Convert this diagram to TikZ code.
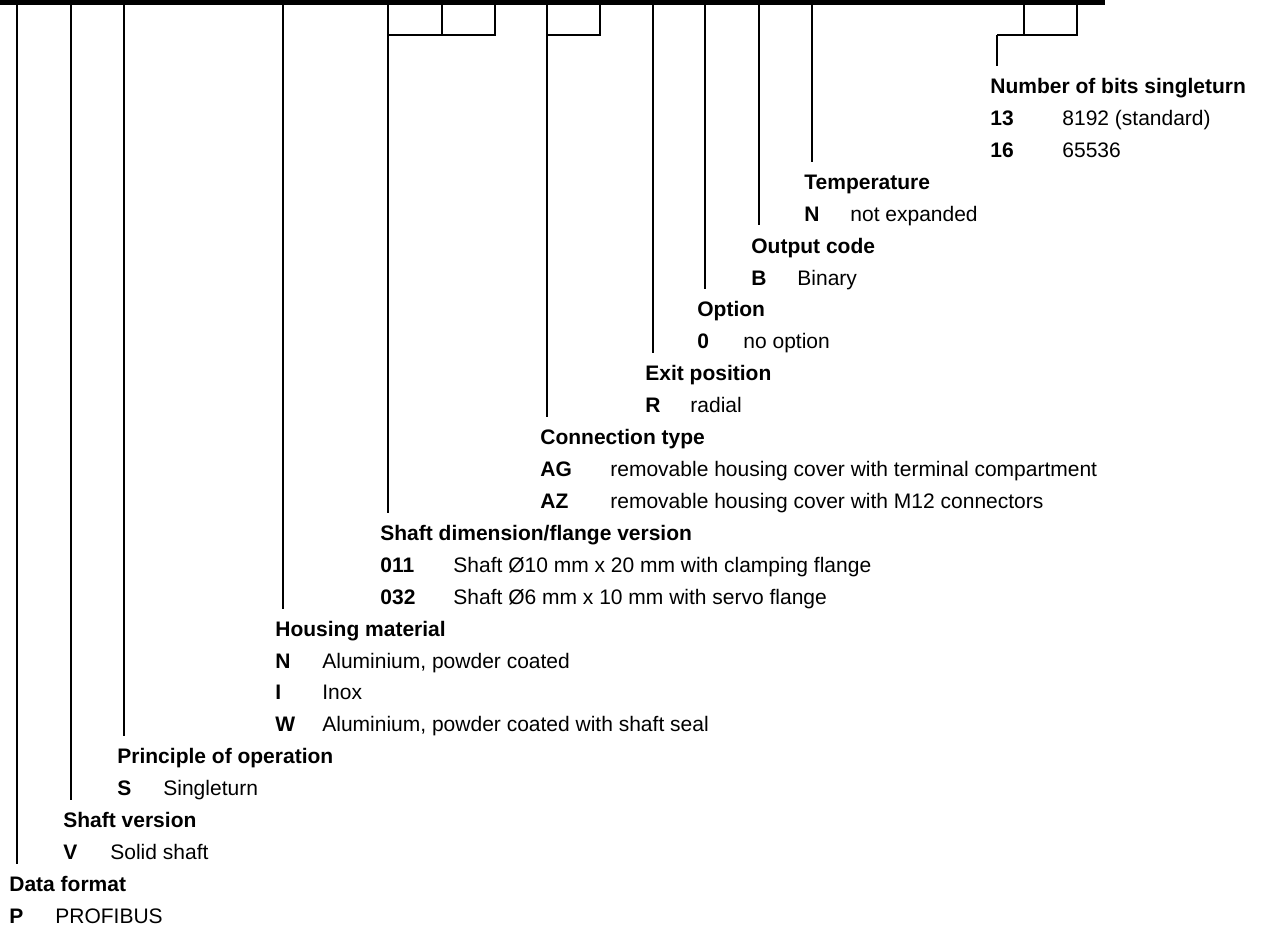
\documentclass[tikz,border=0pt]{standalone}
\usepackage{fontspec}
\setmainfont{Liberation Sans}
\usepackage{tikz}
\usetikzlibrary{calc}
\newcommand{\keysize}{\fontsize{10.5pt}{12.6pt}\selectfont}

\begin{document}
\begin{tikzpicture}[
  x=0.5pt,y=-0.5pt,
  ttl/.style={font=\keysize\bfseries,anchor=base west,inner sep=0pt},
  codetxt/.style={font=\keysize\bfseries,anchor=base west,inner sep=0pt},
  desctxt/.style={font=\keysize,anchor=base west,inner sep=0pt},
  stem/.style={line width=1.15pt},
]
  \useasboundingbox (0,0) rectangle (1263,925);
  % type key bar
  \fill (0,0) rectangle (1105,5);
  % stem tops
  \foreach \n/\sx/\sy in {data/17/5,shaftv/71/5,princ/124/5,house/283/5,shaft/388/5,
                          conn/547/5,exit/653/5,opt/705/5,out/759/5,temp/812/5,bits/997/35}
    \coordinate (s-\n) at (\sx,\sy);
  % group brackets
  \draw[stem] (s-shaft |- 0,35) -| (495,5);
  \draw[stem] (442,5) -- (442,35);
  \draw[stem] (s-conn |- 0,35) -| (600,5);
  \draw[stem] (s-bits) -| (1077,5);
  \draw[stem] (1024,5) -- (1024,35);
  % headings
  \foreach \n/\x/\k/\t in {bits/990/0/Number of bits singleturn,
                           temp/804/3/Temperature,
                           out/751/5/Output code,
                           opt/697/7/Option,
                           exit/645/9/Exit position,
                           conn/540/11/Connection type,
                           shaft/380/14/{Shaft dimension/flange version},
                           house/275/17/Housing material,
                           princ/117/21/Principle of operation,
                           shaftv/63/23/Shaft version,
                           data/9/25/Data format}
    \node[ttl] (t-\n) at (\x,{93.5+31.92*\k}) {\t};
  % entries
  \foreach \n/\x/\dx/\k/\c/\t in {b13/990/1062/1/13/8192 (standard),
                                  b16/990/1062/2/16/65536,
                                  tn/804/850/4/N/not expanded,
                                  ob/751/797/6/B/Binary,
                                  o0/697/743/8/0/no option,
                                  er/645/690/10/R/radial,
                                  cag/540/610/12/AG/removable housing cover with terminal compartment,
                                  caz/540/610/13/AZ/removable housing cover with M12 connectors,
                                  s011/380/453/15/011/Shaft Ø10 mm x 20 mm with clamping flange,
                                  s032/380/453/16/032/Shaft Ø6 mm x 10 mm with servo flange,
                                  hn/275/322/18/N/{Aluminium, powder coated},
                                  hi/275/322/19/I/Inox,
                                  hw/275/322/20/W/{Aluminium, powder coated with shaft seal},
                                  ps/117/163/22/S/Singleturn,
                                  vv/63/110/24/V/Solid shaft,
                                  dp/9/55/26/P/PROFIBUS} {
    \node[codetxt] (c-\n) at (\x,{93.5+31.92*\k}) {\c};
    \node[desctxt] (d-\n) at (\dx,{93.5+31.92*\k}) {\t};
  }
  % stems down to the headings
  \foreach \n in {data,shaftv,princ,house,shaft,conn,exit,opt,out,temp,bits}
    \draw[stem,shorten >=6pt] (s-\n) -- (s-\n |- t-\n.north);
\end{tikzpicture}
\end{document}
